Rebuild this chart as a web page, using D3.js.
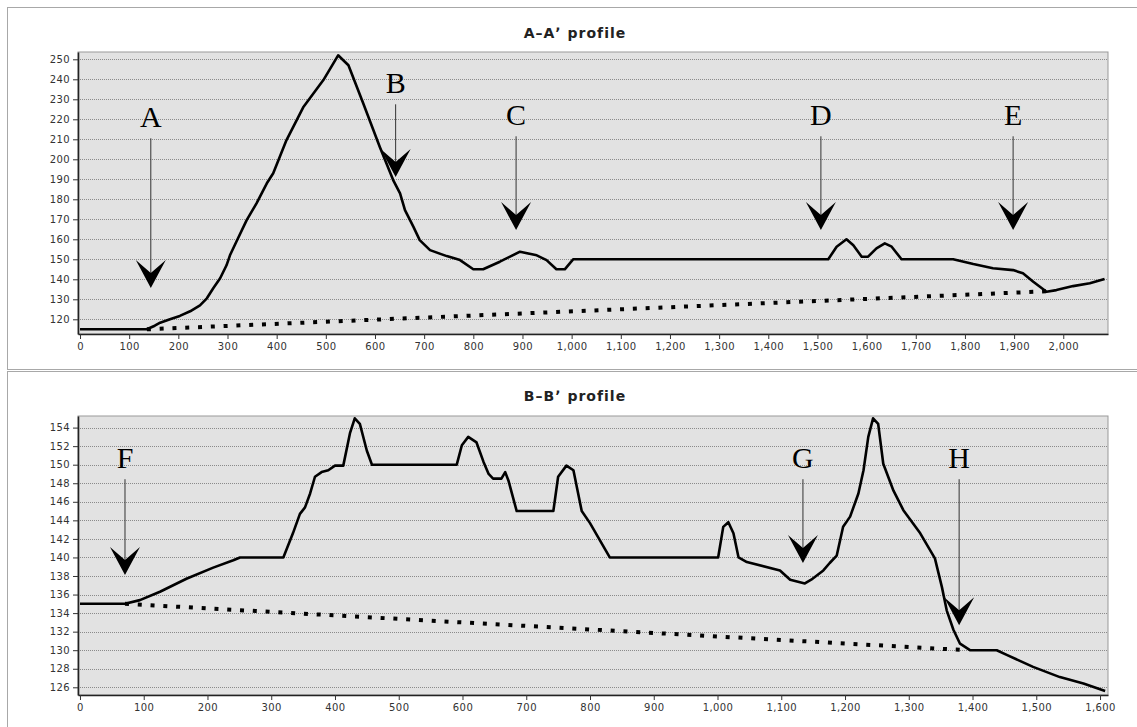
<!DOCTYPE html>
<html>
<head>
<meta charset="utf-8">
<script src="https://cdn.jsdelivr.net/npm/d3@7"></script>
<style>
  body { margin: 0; background: #fff; }
  svg { display: block; }
  .tick text { font-family: "DejaVu Sans", sans-serif; font-size: 10px; fill: #333; letter-spacing: 0.4px; }
</style>
</head>
<body>
<svg id="chart"></svg>
<script>
// A-A' profile (distance m, elevation m)
const aaDistance = [0, 136, 152, 163, 183, 203, 224, 244, 258, 271, 285, 298, 305, 318, 339, 359, 380, 393, 420, 454, 495, 525, 546, 576, 610, 637, 651, 661, 678, 691, 712, 746, 773, 800, 820, 854, 895, 929, 949, 969, 986, 1003, 1522, 1539, 1559, 1573, 1590, 1603, 1620, 1637, 1651, 1671, 1776, 1817, 1857, 1898, 1918, 1939, 1966, 1986, 2020, 2054, 2084];
const aaElevation = [115, 115, 116.8, 118.3, 120, 121.7, 124, 127, 130.5, 135.5, 140.5, 147, 152, 158.8, 169.6, 178, 188, 193, 209.6, 226, 239.6, 252, 247, 228, 206, 189.6, 183, 174.6, 166.3, 159.6, 154.6, 151.6, 149.6, 145, 145, 148.8, 153.8, 152, 149.6, 145, 145, 150, 150, 156.3, 160, 157, 151.3, 151.3, 155.5, 158, 156.3, 150, 150, 147.6, 145.5, 144.6, 143, 138.8, 133.8, 134.6, 136.6, 138, 140.2];
const aaBaseDistance = [136, 1966];
const aaBaseElevation = [115, 134];
const aaXTicks = [0, 100, 200, 300, 400, 500, 600, 700, 800, 900, 1000, 1100, 1200, 1300, 1400, 1500, 1600, 1700, 1800, 1900, 2000];
const aaYTicks = [120, 130, 140, 150, 160, 170, 180, 190, 200, 210, 220, 230, 240, 250];
const aaMarkers = ["A", "B", "C", "D", "E"];
const aaMarkerX = [144, 642, 887, 1507, 1898];
const aaMarkerLabelY = [221, 238, 222, 222, 222];
const aaMarkerTipY = [135.6, 191.2, 164.6, 164.6, 164.6];

// B-B' profile
const bbDistance = [0, 70.6, 94, 125.5, 167, 209, 240.5, 251, 319, 334, 345, 353, 361, 368.6, 379, 389.5, 400, 413, 423.5, 431, 439, 450, 458, 591, 599, 609, 622, 633, 641, 648, 661, 667, 672, 685, 742.5, 750, 763, 774, 787, 800, 831, 1001, 1009, 1017, 1025, 1033, 1046, 1098, 1114, 1137, 1147, 1166, 1176, 1187, 1197, 1208, 1221, 1229, 1236.5, 1244, 1252, 1260, 1276, 1291.5, 1318, 1341, 1352, 1359.5, 1370, 1380.4, 1396, 1438, 1453.6, 1495, 1537, 1574, 1608];
const bbElevation = [135, 135, 135.4, 136.3, 137.7, 138.9, 139.7, 140, 140, 142.6, 144.7, 145.4, 146.9, 148.7, 149.2, 149.4, 149.9, 149.9, 153.4, 155, 154.4, 151.5, 150, 150, 152.1, 153, 152.4, 150.3, 149, 148.5, 148.5, 149.2, 148.3, 145, 145, 148.7, 149.9, 149.4, 145, 143.7, 140, 140, 143.3, 143.8, 142.6, 140, 139.5, 138.6, 137.6, 137.2, 137.6, 138.6, 139.4, 140.2, 143.3, 144.4, 146.9, 149.4, 153, 155, 154.4, 150.1, 147.2, 145.1, 142.6, 139.9, 136.8, 134.3, 132.2, 130.7, 130, 130, 129.5, 128.2, 127.1, 126.4, 125.6];
const bbBaseDistance = [70.6, 1391];
const bbBaseElevation = [135, 130];
const bbXTicks = [0, 100, 200, 300, 400, 500, 600, 700, 800, 900, 1000, 1100, 1200, 1300, 1400, 1500, 1600];
const bbYTicks = [126, 128, 130, 132, 134, 136, 138, 140, 142, 144, 146, 148, 150, 152, 154];
const bbMarkers = ["F", "G", "H"];
const bbMarkerX = [70.6, 1134, 1379];
const bbMarkerLabelY = [150.7, 150.7, 150.7];
const bbMarkerTipY = [138.1, 139.4, 132.7];

const svgWidth = 1137, svgHeight = 727;
const chart = d3.select("#chart").attr("width", svgWidth).attr("height", svgHeight);

const panels = [
  { title: "A\u2013A\u02bc profile", frame: [7, 7, 1150, 362], titleY: 38,
    plot: {left: 78, top: 52, right: 1108, bottom: 334},
    xDomain: [-4.1, 2091], yDomain: [112.65, 253.65],
    dist: aaDistance, elev: aaElevation, baseDist: aaBaseDistance, baseElev: aaBaseElevation,
    xTicks: aaXTicks, yTicks: aaYTicks,
    markers: aaMarkers, markerX: aaMarkerX, markerLabelY: aaMarkerLabelY, markerTipY: aaMarkerTipY },
  { title: "B\u2013B\u02bc profile", frame: [7, 371, 1150, 400], titleY: 401,
    plot: {left: 78, top: 416, right: 1108, bottom: 695},
    xDomain: [-3.1, 1612.5], yDomain: [125.17, 155.25],
    dist: bbDistance, elev: bbElevation, baseDist: bbBaseDistance, baseElev: bbBaseElevation,
    xTicks: bbXTicks, yTicks: bbYTicks,
    markers: bbMarkers, markerX: bbMarkerX, markerLabelY: bbMarkerLabelY, markerTipY: bbMarkerTipY }
];

panels.forEach(drawPanel);

function drawPanel(p) {
  const g = chart.append("g");
  // outer frame
  g.append("rect")
    .attr("x", p.frame[0] + 0.5).attr("y", p.frame[1] + 0.5)
    .attr("width", p.frame[2]).attr("height", p.frame[3])
    .attr("fill", "#fff").attr("stroke", "#a8a8a8");

  const xScale = d3.scaleLinear().domain(p.xDomain).range([p.plot.left, p.plot.right]);
  const yScale = d3.scaleLinear().domain(p.yDomain).range([p.plot.bottom, p.plot.top]);

  // plot background
  g.append("rect")
    .attr("x", p.plot.left).attr("y", p.plot.top)
    .attr("width", p.plot.right - p.plot.left).attr("height", p.plot.bottom - p.plot.top)
    .attr("fill", "#e2e2e2").attr("stroke", "#999");

  // dotted grid
  g.append("g").selectAll("line").data(p.yTicks).join("line")
    .attr("x1", p.plot.left).attr("x2", p.plot.right)
    .attr("y1", d => Math.round(yScale(d)) + 0.5).attr("y2", d => Math.round(yScale(d)) + 0.5)
    .attr("stroke", "#8a8a8a").attr("stroke-dasharray", "1,1");

  // title
  g.append("text")
    .attr("x", (p.plot.left + p.plot.right) / 2 - 18).attr("y", p.titleY)
    .attr("text-anchor", "middle")
    .attr("font-family", "DejaVu Sans, sans-serif").attr("font-weight", "bold")
    .attr("font-size", 14).attr("letter-spacing", "1px").attr("fill", "#222")
    .text(p.title);

  // axes
  const xAxis = d3.axisBottom(xScale).tickValues(p.xTicks).tickFormat(d3.format(","))
    .tickSize(5).tickSizeOuter(0).tickPadding(4);
  const yAxis = d3.axisLeft(yScale).tickValues(p.yTicks).tickFormat(d3.format("d"))
    .tickSize(5).tickSizeOuter(0).tickPadding(3);
  const gx = g.append("g").attr("transform", `translate(0,${p.plot.bottom})`).call(xAxis);
  const gy = g.append("g").attr("transform", `translate(${p.plot.left},0)`).call(yAxis);
  [gx, gy].forEach(ax => {
    ax.select(".domain").attr("stroke", "#222").attr("stroke-width", 1.6);
    ax.selectAll(".tick line").attr("stroke", "#333");
  });

  // base (straight sight) line, dotted squares
  const base = p.baseDist.map((d, i) => [d, p.baseElev[i]]);
  const line = d3.line().x(d => xScale(d[0])).y(d => yScale(d[1]));
  g.append("path").datum(base)
    .attr("d", line)
    .attr("fill", "none").attr("stroke", "#000")
    .attr("stroke-width", 4).attr("stroke-dasharray", "4,8.8");

  // terrain profile
  const prof = p.dist.map((d, i) => [d, p.elev[i]]);
  g.append("path").datum(prof)
    .attr("d", line)
    .attr("fill", "none").attr("stroke", "#000")
    .attr("stroke-width", 2.6).attr("stroke-linejoin", "round");

  // markers: letter, thin line, black arrowhead
  const marks = p.markers.map((m, i) => ({
    label: m, x: xScale(p.markerX[i]), ly: yScale(p.markerLabelY[i]), ty: yScale(p.markerTipY[i])
  }));
  const mg = g.append("g").selectAll("g").data(marks).join("g");
  mg.append("text")
    .attr("x", d => d.x).attr("y", d => d.ly + 10)
    .attr("text-anchor", "middle")
    .attr("font-family", "Liberation Serif, serif").attr("font-size", 30)
    .attr("fill", "#000")
    .text(d => d.label);
  mg.append("line")
    .attr("x1", d => d.x).attr("x2", d => d.x)
    .attr("y1", d => d.ly + 21).attr("y2", d => d.ty - 14)
    .attr("stroke", "#333").attr("stroke-width", 1);
  mg.append("path")
    .attr("transform", d => `translate(${d.x},${d.ty})`)
    .attr("d", "M0,0 L-15,-28 L0,-15 L15,-28 Z")
    .attr("fill", "#000");
}
</script>
</body>
</html>
